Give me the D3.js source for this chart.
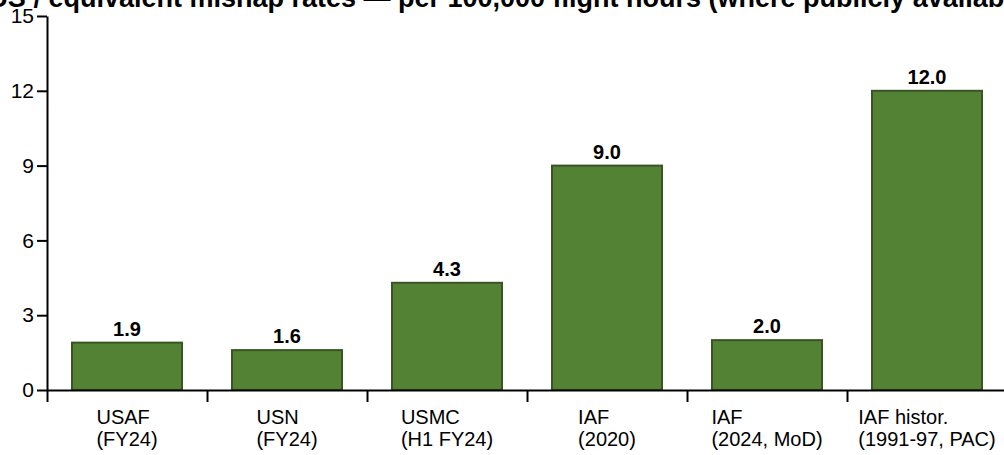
<!DOCTYPE html>
<html>
<head>
<meta charset="utf-8">
<script src="https://cdn.jsdelivr.net/npm/d3@7"></script>
<style>
  html, body { margin: 0; padding: 0; background: #fff; }
  svg { display: block; font-family: "Liberation Sans", Arial, Helvetica, sans-serif; }
</style>
</head>
<body>
<svg id="chart" width="1004" height="455"></svg>
<script>
const title = "US / equivalent mishap rates \u2014 per 100,000 flight hours (where publicly available)";
const categoryLines1 = ["USAF", "USN", "USMC", "IAF", "IAF", "IAF histor."];
const categoryLines2 = ["(FY24)", "(FY24)", "(H1 FY24)", "(2020)", "(2024, MoD)", "(1991-97, PAC)"];
const values = [1.9, 1.6, 4.3, 9.0, 2.0, 12.0];
const valueLabels = ["1.9", "1.6", "4.3", "9.0", "2.0", "12.0"];
const yTicks = [0, 3, 6, 9, 12, 15];

(function () {
const svg = d3.select("#chart");
const mLeft = 47, mRight = 1007, mTop = 16, mBottom = 390;

const idx = d3.range(values.length);
const xBar = d3.scaleBand().domain(idx).range([mLeft, mRight]).paddingInner(0.3125).paddingOuter(0.15625);
const xEdge = d3.scaleLinear().domain([0, values.length]).range([mLeft, mRight]);
const y = d3.scaleLinear().domain([0, 15]).range([mBottom, mTop]);

// title (wider than the view, clipped at the top like the reference)
const tt = svg.append("text")
  .attr("x", 0).attr("y", 7)
  .attr("font-weight", "bold")
  .attr("font-size", 27)
  .attr("fill", "#000")
  .text(title);
const pIdx = title.indexOf("per ");
const px = tt.node().getStartPositionOfChar(pIdx).x;
tt.attr("x", 398 - px);

// bars
svg.append("g").selectAll("rect").data(idx).join("rect")
  .attr("x", i => xBar(i))
  .attr("y", i => y(values[i]))
  .attr("width", xBar.bandwidth())
  .attr("height", i => y(0) - y(values[i]))
  .attr("fill", "#548235")
  .attr("stroke", "#375623")
  .attr("stroke-width", 2);

// value labels
svg.append("g").selectAll("text").data(idx).join("text")
  .attr("x", i => xBar(i) + xBar.bandwidth() / 2)
  .attr("y", i => y(values[i]) - 7)
  .attr("text-anchor", "middle")
  .attr("font-weight", "bold")
  .attr("font-size", 20)
  .attr("fill", "#000")
  .text(i => valueLabels[i]);

// y axis
const yAxis = svg.append("g").attr("transform", `translate(${mLeft},0)`)
  .call(d3.axisLeft(y).tickValues(yTicks).tickSize(10).tickSizeOuter(0).tickPadding(3));
yAxis.select(".domain").attr("stroke", "#000").attr("stroke-width", 2);
yAxis.selectAll(".tick line").attr("stroke", "#000").attr("stroke-width", 2);
yAxis.selectAll(".tick text").attr("font-size", 21).attr("fill", "#000")
  .attr("font-family", "Liberation Sans, Arial, sans-serif");

// x axis
const xAxis = svg.append("g").attr("transform", `translate(0,${mBottom})`)
  .call(d3.axisBottom(xEdge).tickValues(d3.range(values.length + 1)).tickFormat("").tickSize(12).tickSizeOuter(0));
xAxis.select(".domain").attr("stroke", "#000").attr("stroke-width", 2);
xAxis.selectAll(".tick line").attr("stroke", "#000").attr("stroke-width", 2);

// category labels (block centered, lines left-aligned)
const labG = svg.append("g");
idx.forEach(i => {
  const cx = (xEdge(i) + xEdge(i + 1)) / 2;
  const t = labG.append("text").attr("font-size", 20).attr("fill", "#000");
  const t1 = t.append("tspan").attr("y", mBottom + 34).text(categoryLines1[i]);
  const t2 = t.append("tspan").attr("y", mBottom + 56).text(categoryLines2[i]);
  const w = Math.max(t1.node().getComputedTextLength(), t2.node().getComputedTextLength());
  t1.attr("x", cx - w / 2);
  t2.attr("x", cx - w / 2);
});
})();
</script>
</body>
</html>
